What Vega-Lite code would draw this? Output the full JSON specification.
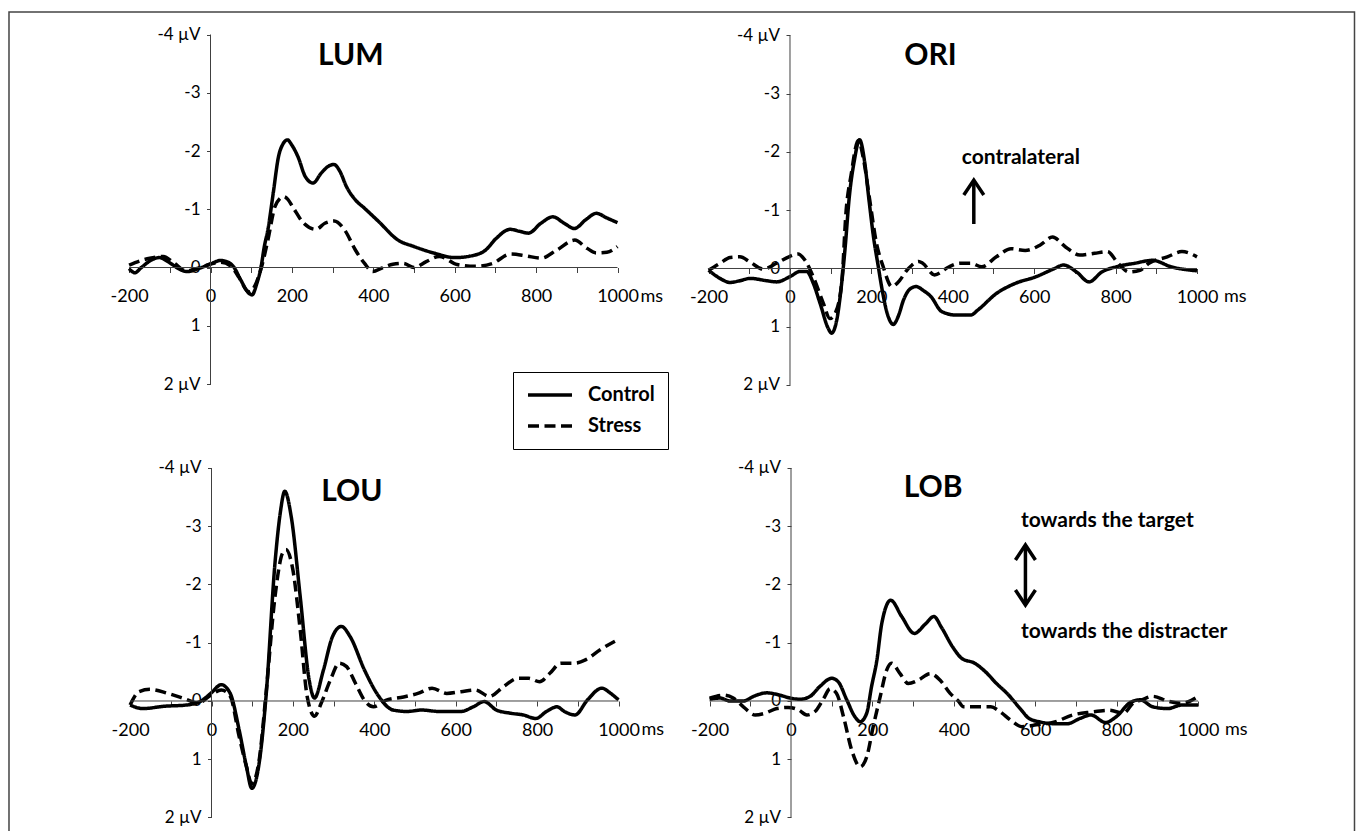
{
  "$schema": "https://vega.github.io/schema/vega-lite/v6.json",
  "width": 1357,
  "height": 831,
  "autosize": {"type": "none"},
  "padding": 0,
  "background": "white",
  "config": {
    "view": {"stroke": null},
    "font": "Lato",
    "text": {"font": "Lato", "color": "black"}
  },
  "datasets": {
    "LUM": [
      {"cond":"Control","t":-200,"v":0.02},{"cond":"Control","t":-186,"v":0.09},{"cond":"Control","t":-170,"v":0.0},{"cond":"Control","t":-142,"v":-0.14},{"cond":"Control","t":-126,"v":-0.17},{"cond":"Control","t":-100,"v":-0.08},{"cond":"Control","t":-76,"v":0.03},{"cond":"Control","t":-58,"v":0.07},{"cond":"Control","t":-26,"v":0.01},{"cond":"Control","t":0,"v":-0.06},{"cond":"Control","t":24,"v":-0.12},{"cond":"Control","t":40,"v":-0.1},{"cond":"Control","t":57,"v":-0.01},{"cond":"Control","t":74,"v":0.21},{"cond":"Control","t":94,"v":0.44},{"cond":"Control","t":102,"v":0.47},{"cond":"Control","t":114,"v":0.27},{"cond":"Control","t":124,"v":0.0},{"cond":"Control","t":132,"v":-0.35},{"cond":"Control","t":141,"v":-0.65},{"cond":"Control","t":154,"v":-1.27},{"cond":"Control","t":167,"v":-1.9},{"cond":"Control","t":178,"v":-2.12},{"cond":"Control","t":189,"v":-2.19},{"cond":"Control","t":200,"v":-2.1},{"cond":"Control","t":215,"v":-1.9},{"cond":"Control","t":233,"v":-1.56},{"cond":"Control","t":252,"v":-1.45},{"cond":"Control","t":272,"v":-1.62},{"cond":"Control","t":290,"v":-1.74},{"cond":"Control","t":303,"v":-1.77},{"cond":"Control","t":318,"v":-1.65},{"cond":"Control","t":334,"v":-1.39},{"cond":"Control","t":356,"v":-1.16},{"cond":"Control","t":378,"v":-1.02},{"cond":"Control","t":413,"v":-0.79},{"cond":"Control","t":461,"v":-0.47},{"cond":"Control","t":500,"v":-0.36},{"cond":"Control","t":553,"v":-0.24},{"cond":"Control","t":600,"v":-0.17},{"cond":"Control","t":641,"v":-0.2},{"cond":"Control","t":676,"v":-0.3},{"cond":"Control","t":702,"v":-0.5},{"cond":"Control","t":736,"v":-0.655},{"cond":"Control","t":760,"v":-0.62},{"cond":"Control","t":781,"v":-0.59},{"cond":"Control","t":812,"v":-0.76},{"cond":"Control","t":841,"v":-0.87},{"cond":"Control","t":869,"v":-0.76},{"cond":"Control","t":894,"v":-0.67},{"cond":"Control","t":922,"v":-0.82},{"cond":"Control","t":948,"v":-0.93},{"cond":"Control","t":974,"v":-0.85},{"cond":"Control","t":1000,"v":-0.77},
      {"cond":"Stress","t":-200,"v":-0.04},{"cond":"Stress","t":-170,"v":-0.12},{"cond":"Stress","t":-149,"v":-0.16},{"cond":"Stress","t":-116,"v":-0.19},{"cond":"Stress","t":-90,"v":-0.08},{"cond":"Stress","t":-60,"v":0.06},{"cond":"Stress","t":-26,"v":0.0},{"cond":"Stress","t":0,"v":-0.06},{"cond":"Stress","t":25,"v":-0.09},{"cond":"Stress","t":49,"v":-0.03},{"cond":"Stress","t":70,"v":0.17},{"cond":"Stress","t":90,"v":0.4},{"cond":"Stress","t":97,"v":0.42},{"cond":"Stress","t":110,"v":0.3},{"cond":"Stress","t":125,"v":0.0},{"cond":"Stress","t":141,"v":-0.47},{"cond":"Stress","t":158,"v":-1.04},{"cond":"Stress","t":170,"v":-1.18},{"cond":"Stress","t":180,"v":-1.215},{"cond":"Stress","t":190,"v":-1.17},{"cond":"Stress","t":202,"v":-1.04},{"cond":"Stress","t":229,"v":-0.76},{"cond":"Stress","t":259,"v":-0.655},{"cond":"Stress","t":281,"v":-0.76},{"cond":"Stress","t":304,"v":-0.8},{"cond":"Stress","t":330,"v":-0.64},{"cond":"Stress","t":356,"v":-0.3},{"cond":"Stress","t":378,"v":-0.075},{"cond":"Stress","t":399,"v":0.07},{"cond":"Stress","t":421,"v":0.01},{"cond":"Stress","t":448,"v":-0.055},{"cond":"Stress","t":474,"v":-0.07},{"cond":"Stress","t":500,"v":0.0},{"cond":"Stress","t":530,"v":-0.1},{"cond":"Stress","t":562,"v":-0.19},{"cond":"Stress","t":606,"v":-0.05},{"cond":"Stress","t":650,"v":-0.02},{"cond":"Stress","t":693,"v":-0.07},{"cond":"Stress","t":737,"v":-0.23},{"cond":"Stress","t":775,"v":-0.2},{"cond":"Stress","t":812,"v":-0.16},{"cond":"Stress","t":851,"v":-0.3},{"cond":"Stress","t":895,"v":-0.47},{"cond":"Stress","t":925,"v":-0.33},{"cond":"Stress","t":948,"v":-0.25},{"cond":"Stress","t":974,"v":-0.26},{"cond":"Stress","t":1000,"v":-0.36}
    ],
    "ORI": [
      {"cond":"Control","t":-200,"v":0.03},{"cond":"Control","t":-172,"v":0.17},{"cond":"Control","t":-147,"v":0.24},{"cond":"Control","t":-123,"v":0.21},{"cond":"Control","t":-98,"v":0.17},{"cond":"Control","t":-57,"v":0.21},{"cond":"Control","t":-33,"v":0.23},{"cond":"Control","t":0,"v":0.14},{"cond":"Control","t":25,"v":0.05},{"cond":"Control","t":41,"v":0.05},{"cond":"Control","t":57,"v":0.25},{"cond":"Control","t":74,"v":0.6},{"cond":"Control","t":94,"v":1.03},{"cond":"Control","t":102,"v":1.11},{"cond":"Control","t":115,"v":0.88},{"cond":"Control","t":127,"v":0.25},{"cond":"Control","t":136,"v":-0.4},{"cond":"Control","t":145,"v":-1.18},{"cond":"Control","t":158,"v":-1.85},{"cond":"Control","t":171,"v":-2.21},{"cond":"Control","t":183,"v":-1.85},{"cond":"Control","t":194,"v":-1.18},{"cond":"Control","t":205,"v":-0.55},{"cond":"Control","t":217,"v":-0.03},{"cond":"Control","t":226,"v":0.35},{"cond":"Control","t":238,"v":0.75},{"cond":"Control","t":254,"v":0.96},{"cond":"Control","t":266,"v":0.82},{"cond":"Control","t":279,"v":0.54},{"cond":"Control","t":295,"v":0.35},{"cond":"Control","t":310,"v":0.31},{"cond":"Control","t":328,"v":0.38},{"cond":"Control","t":346,"v":0.48},{"cond":"Control","t":373,"v":0.74},{"cond":"Control","t":409,"v":0.8},{"cond":"Control","t":444,"v":0.8},{"cond":"Control","t":462,"v":0.71},{"cond":"Control","t":507,"v":0.43},{"cond":"Control","t":552,"v":0.26},{"cond":"Control","t":605,"v":0.14},{"cond":"Control","t":650,"v":0.0},{"cond":"Control","t":672,"v":-0.06},{"cond":"Control","t":704,"v":0.06},{"cond":"Control","t":735,"v":0.23},{"cond":"Control","t":766,"v":0.06},{"cond":"Control","t":802,"v":-0.03},{"cond":"Control","t":847,"v":-0.09},{"cond":"Control","t":891,"v":-0.14},{"cond":"Control","t":936,"v":-0.03},{"cond":"Control","t":1000,"v":0.04},
      {"cond":"Stress","t":-200,"v":0.03},{"cond":"Stress","t":-172,"v":-0.09},{"cond":"Stress","t":-147,"v":-0.19},{"cond":"Stress","t":-123,"v":-0.2},{"cond":"Stress","t":-98,"v":-0.11},{"cond":"Stress","t":-66,"v":0.01},{"cond":"Stress","t":-33,"v":-0.09},{"cond":"Stress","t":0,"v":-0.21},{"cond":"Stress","t":20,"v":-0.25},{"cond":"Stress","t":37,"v":-0.14},{"cond":"Stress","t":57,"v":0.14},{"cond":"Stress","t":82,"v":0.6},{"cond":"Stress","t":98,"v":0.86},{"cond":"Stress","t":111,"v":0.77},{"cond":"Stress","t":127,"v":0.25},{"cond":"Stress","t":138,"v":-1.0},{"cond":"Stress","t":150,"v":-1.6},{"cond":"Stress","t":168,"v":-2.2},{"cond":"Stress","t":180,"v":-1.9},{"cond":"Stress","t":196,"v":-1.17},{"cond":"Stress","t":212,"v":-0.45},{"cond":"Stress","t":229,"v":-0.03},{"cond":"Stress","t":250,"v":0.31},{"cond":"Stress","t":270,"v":0.2},{"cond":"Stress","t":285,"v":0.05},{"cond":"Stress","t":300,"v":-0.06},{"cond":"Stress","t":316,"v":-0.12},{"cond":"Stress","t":326,"v":-0.09},{"cond":"Stress","t":355,"v":0.11},{"cond":"Stress","t":391,"v":-0.03},{"cond":"Stress","t":418,"v":-0.09},{"cond":"Stress","t":444,"v":-0.09},{"cond":"Stress","t":471,"v":-0.03},{"cond":"Stress","t":507,"v":-0.2},{"cond":"Stress","t":543,"v":-0.34},{"cond":"Stress","t":578,"v":-0.31},{"cond":"Stress","t":614,"v":-0.4},{"cond":"Stress","t":645,"v":-0.54},{"cond":"Stress","t":677,"v":-0.37},{"cond":"Stress","t":712,"v":-0.23},{"cond":"Stress","t":748,"v":-0.26},{"cond":"Stress","t":780,"v":-0.29},{"cond":"Stress","t":806,"v":-0.09},{"cond":"Stress","t":833,"v":0.06},{"cond":"Stress","t":860,"v":0.03},{"cond":"Stress","t":882,"v":-0.09},{"cond":"Stress","t":927,"v":-0.2},{"cond":"Stress","t":963,"v":-0.29},{"cond":"Stress","t":1000,"v":-0.2}
    ],
    "LOU": [
      {"cond":"Control","t":-200,"v":0.07},{"cond":"Control","t":-169,"v":0.13},{"cond":"Control","t":-116,"v":0.09},{"cond":"Control","t":-63,"v":0.07},{"cond":"Control","t":-28,"v":0.01},{"cond":"Control","t":-2,"v":-0.13},{"cond":"Control","t":24,"v":-0.28},{"cond":"Control","t":46,"v":-0.13},{"cond":"Control","t":68,"v":0.5},{"cond":"Control","t":86,"v":1.13},{"cond":"Control","t":99,"v":1.5},{"cond":"Control","t":117,"v":1.07},{"cond":"Control","t":134,"v":-0.08},{"cond":"Control","t":156,"v":-2.37},{"cond":"Control","t":169,"v":-3.23},{"cond":"Control","t":180,"v":-3.6},{"cond":"Control","t":196,"v":-3.16},{"cond":"Control","t":218,"v":-1.79},{"cond":"Control","t":240,"v":-0.36},{"cond":"Control","t":253,"v":-0.05},{"cond":"Control","t":275,"v":-0.53},{"cond":"Control","t":297,"v":-1.1},{"cond":"Control","t":319,"v":-1.28},{"cond":"Control","t":341,"v":-1.1},{"cond":"Control","t":376,"v":-0.53},{"cond":"Control","t":411,"v":-0.08},{"cond":"Control","t":446,"v":0.155},{"cond":"Control","t":481,"v":0.18},{"cond":"Control","t":516,"v":0.155},{"cond":"Control","t":560,"v":0.18},{"cond":"Control","t":613,"v":0.18},{"cond":"Control","t":643,"v":0.1},{"cond":"Control","t":670,"v":0.01},{"cond":"Control","t":700,"v":0.155},{"cond":"Control","t":735,"v":0.21},{"cond":"Control","t":766,"v":0.24},{"cond":"Control","t":797,"v":0.3},{"cond":"Control","t":823,"v":0.18},{"cond":"Control","t":849,"v":0.1},{"cond":"Control","t":867,"v":0.18},{"cond":"Control","t":893,"v":0.24},{"cond":"Control","t":924,"v":-0.02},{"cond":"Control","t":959,"v":-0.22},{"cond":"Control","t":981,"v":-0.13},{"cond":"Control","t":1000,"v":-0.02},
      {"cond":"Stress","t":-200,"v":0.07},{"cond":"Stress","t":-178,"v":-0.16},{"cond":"Stress","t":-151,"v":-0.2},{"cond":"Stress","t":-107,"v":-0.13},{"cond":"Stress","t":-63,"v":-0.03},{"cond":"Stress","t":-33,"v":0.04},{"cond":"Stress","t":-2,"v":-0.1},{"cond":"Stress","t":24,"v":-0.19},{"cond":"Stress","t":46,"v":-0.08},{"cond":"Stress","t":68,"v":0.61},{"cond":"Stress","t":86,"v":1.13},{"cond":"Stress","t":99,"v":1.42},{"cond":"Stress","t":117,"v":1.02},{"cond":"Stress","t":134,"v":-0.13},{"cond":"Stress","t":156,"v":-1.79},{"cond":"Stress","t":174,"v":-2.53},{"cond":"Stress","t":183,"v":-2.6},{"cond":"Stress","t":200,"v":-2.25},{"cond":"Stress","t":218,"v":-1.22},{"cond":"Stress","t":235,"v":-0.08},{"cond":"Stress","t":253,"v":0.26},{"cond":"Stress","t":270,"v":0.03},{"cond":"Stress","t":292,"v":-0.36},{"cond":"Stress","t":314,"v":-0.65},{"cond":"Stress","t":332,"v":-0.59},{"cond":"Stress","t":354,"v":-0.3},{"cond":"Stress","t":376,"v":-0.01},{"cond":"Stress","t":398,"v":0.1},{"cond":"Stress","t":428,"v":-0.01},{"cond":"Stress","t":472,"v":-0.07},{"cond":"Stress","t":507,"v":-0.13},{"cond":"Stress","t":542,"v":-0.22},{"cond":"Stress","t":578,"v":-0.13},{"cond":"Stress","t":613,"v":-0.16},{"cond":"Stress","t":648,"v":-0.19},{"cond":"Stress","t":683,"v":-0.08},{"cond":"Stress","t":718,"v":-0.25},{"cond":"Stress","t":753,"v":-0.39},{"cond":"Stress","t":779,"v":-0.39},{"cond":"Stress","t":806,"v":-0.33},{"cond":"Stress","t":832,"v":-0.48},{"cond":"Stress","t":858,"v":-0.65},{"cond":"Stress","t":893,"v":-0.65},{"cond":"Stress","t":920,"v":-0.71},{"cond":"Stress","t":955,"v":-0.88},{"cond":"Stress","t":1000,"v":-1.06}
    ],
    "LOB": [
      {"cond":"Control","t":-200,"v":-0.03},{"cond":"Control","t":-174,"v":-0.05},{"cond":"Control","t":-150,"v":0.0},{"cond":"Control","t":-117,"v":0.0},{"cond":"Control","t":-92,"v":-0.08},{"cond":"Control","t":-60,"v":-0.14},{"cond":"Control","t":-27,"v":-0.1},{"cond":"Control","t":-2,"v":-0.05},{"cond":"Control","t":22,"v":-0.03},{"cond":"Control","t":47,"v":-0.08},{"cond":"Control","t":71,"v":-0.25},{"cond":"Control","t":100,"v":-0.39},{"cond":"Control","t":116,"v":-0.33},{"cond":"Control","t":137,"v":-0.02},{"cond":"Control","t":157,"v":0.27},{"cond":"Control","t":170,"v":0.355},{"cond":"Control","t":186,"v":0.21},{"cond":"Control","t":198,"v":-0.25},{"cond":"Control","t":211,"v":-0.7},{"cond":"Control","t":223,"v":-1.33},{"cond":"Control","t":245,"v":-1.73},{"cond":"Control","t":272,"v":-1.45},{"cond":"Control","t":303,"v":-1.16},{"cond":"Control","t":330,"v":-1.32},{"cond":"Control","t":351,"v":-1.45},{"cond":"Control","t":370,"v":-1.26},{"cond":"Control","t":397,"v":-0.93},{"cond":"Control","t":420,"v":-0.73},{"cond":"Control","t":451,"v":-0.65},{"cond":"Control","t":478,"v":-0.5},{"cond":"Control","t":505,"v":-0.3},{"cond":"Control","t":531,"v":-0.13},{"cond":"Control","t":563,"v":0.13},{"cond":"Control","t":585,"v":0.3},{"cond":"Control","t":612,"v":0.36},{"cond":"Control","t":648,"v":0.39},{"cond":"Control","t":679,"v":0.39},{"cond":"Control","t":710,"v":0.3},{"cond":"Control","t":737,"v":0.24},{"cond":"Control","t":773,"v":0.37},{"cond":"Control","t":799,"v":0.27},{"cond":"Control","t":835,"v":0.02},{"cond":"Control","t":858,"v":-0.02},{"cond":"Control","t":889,"v":0.1},{"cond":"Control","t":925,"v":0.13},{"cond":"Control","t":960,"v":0.07},{"cond":"Control","t":1000,"v":0.07},
      {"cond":"Stress","t":-200,"v":-0.05},{"cond":"Stress","t":-166,"v":-0.1},{"cond":"Stress","t":-142,"v":-0.05},{"cond":"Stress","t":-117,"v":0.1},{"cond":"Stress","t":-88,"v":0.24},{"cond":"Stress","t":-64,"v":0.21},{"cond":"Stress","t":-35,"v":0.13},{"cond":"Stress","t":-7,"v":0.11},{"cond":"Stress","t":18,"v":0.15},{"cond":"Stress","t":39,"v":0.24},{"cond":"Stress","t":59,"v":0.18},{"cond":"Stress","t":80,"v":-0.04},{"cond":"Stress","t":96,"v":-0.21},{"cond":"Stress","t":112,"v":-0.13},{"cond":"Stress","t":129,"v":0.27},{"cond":"Stress","t":149,"v":0.84},{"cond":"Stress","t":170,"v":1.13},{"cond":"Stress","t":186,"v":0.96},{"cond":"Stress","t":202,"v":0.44},{"cond":"Stress","t":219,"v":-0.07},{"cond":"Stress","t":235,"v":-0.53},{"cond":"Stress","t":247,"v":-0.65},{"cond":"Stress","t":268,"v":-0.47},{"cond":"Stress","t":288,"v":-0.3},{"cond":"Stress","t":313,"v":-0.36},{"cond":"Stress","t":342,"v":-0.47},{"cond":"Stress","t":366,"v":-0.36},{"cond":"Stress","t":391,"v":-0.13},{"cond":"Stress","t":411,"v":0.0},{"cond":"Stress","t":424,"v":0.1},{"cond":"Stress","t":460,"v":0.1},{"cond":"Stress","t":491,"v":0.1},{"cond":"Stress","t":513,"v":0.18},{"cond":"Stress","t":540,"v":0.33},{"cond":"Stress","t":567,"v":0.44},{"cond":"Stress","t":603,"v":0.41},{"cond":"Stress","t":648,"v":0.36},{"cond":"Stress","t":692,"v":0.24},{"cond":"Stress","t":737,"v":0.19},{"cond":"Stress","t":782,"v":0.16},{"cond":"Stress","t":817,"v":0.21},{"cond":"Stress","t":840,"v":0.04},{"cond":"Stress","t":862,"v":-0.02},{"cond":"Stress","t":889,"v":-0.08},{"cond":"Stress","t":925,"v":0.0},{"cond":"Stress","t":960,"v":0.04},{"cond":"Stress","t":1000,"v":-0.08}
    ]
  },
  "resolve": {"scale": {"x": "independent", "y": "independent"}, "axis": {"x": "independent", "y": "independent"}},
  "layer": [
    {
      "data": {"name": "LUM"},
      "mark": {"type": "line", "interpolate": "monotone", "strokeWidth": 3.5, "color": "black"},
      "encoding": {
        "x": {"field": "t", "type": "quantitative", "scale": {"domain": [-517.2, 2816.95], "nice": false, "zero": false},
          "axis": {"orient": "bottom", "offset": -563.5, "values": [-200,-100,0,100,200,300,400,500,600,700,800,900,1000], "labelExpr": "datum.value % 200 === 0 ? '' + datum.value : ''", "title": null, "domain": false, "grid": false, "ticks": true, "tickSize": 5, "tickColor": "#404040", "labelBaseline": "alphabetic", "labelPadding": 29, "labelFontSize": 18, "labelFont": "Lato", "labelColor": "black", "labelFlush": false, "labelOverlap": false}},
        "y": {"field": "v", "type": "quantitative", "scale": {"domain": [-4.5923, 9.6738], "nice": false, "zero": false, "reverse": true},
          "axis": {"orient": "left", "offset": -210.5, "values": [-4,-3,-2,-1,0,1,2], "labelExpr": "datum.value === -4 ? '-4 µV' : (datum.value === 2 ? '2 µV' : '' + datum.value)", "title": null, "domain": false, "grid": false, "ticks": true, "tickSize": 4, "tickColor": "#404040", "labelPadding": 6.5, "labelFontSize": 17, "labelFont": "Lato", "labelColor": "black", "labelFlush": false, "labelOverlap": false}},
        "strokeDash": {"field": "cond", "type": "nominal", "scale": {"domain": ["Control", "Stress"], "range": [[1, 0], [11, 5.5]]},
          "legend": {"orient": "none", "legendX": 513, "legendY": 372, "title": null, "strokeColor": "black", "fillColor": "white", "padding": 13, "symbolType": "stroke", "symbolSize": 1936, "symbolStrokeWidth": 3.5, "symbolStrokeColor": "black", "labelFont": "Lato", "labelFontSize": 20, "labelFontWeight": "bold", "labelColor": "black", "labelOffset": 14, "rowPadding": 11, "clipHeight": 20}}
      }
    },
    {"data": {"values": [{}]}, "mark": {"type": "rule", "color": "#404040", "strokeWidth": 1},
      "encoding": {"x": {"datum": -200, "axis": null, "scale": {"domain": [-517.2, 2816.95], "nice": false, "zero": false}}, "x2": {"datum": 1000}, "y": {"datum": 0, "axis": null, "scale": {"domain": [-4.5923, 9.6738], "nice": false, "zero": false, "reverse": true}}}},
    {"data": {"values": [{}]}, "mark": {"type": "rule", "color": "#404040", "strokeWidth": 1},
      "encoding": {"x": {"datum": 0, "axis": null, "scale": {"domain": [-517.2, 2816.95], "nice": false, "zero": false}}, "y": {"datum": -4, "axis": null, "scale": {"domain": [-4.5923, 9.6738], "nice": false, "zero": false, "reverse": true}}, "y2": {"datum": 2}}},
    {"data": {"values": [{}]}, "mark": {"type": "text", "text": "LUM", "fontSize": 30, "fontWeight": "bold", "align": "center", "baseline": "alphabetic"},
      "encoding": {"x": {"datum": 345, "axis": null, "scale": {"domain": [-517.2, 2816.95], "nice": false, "zero": false}}, "y": {"datum": -3.48, "axis": null, "scale": {"domain": [-4.5923, 9.6738], "nice": false, "zero": false, "reverse": true}}}},
    {"data": {"values": [{}]}, "mark": {"type": "text", "text": "ms", "fontSize": 18, "align": "left", "baseline": "alphabetic", "dx": 23, "dy": 34},
      "encoding": {"x": {"datum": 1000, "axis": null, "scale": {"domain": [-517.2, 2816.95], "nice": false, "zero": false}}, "y": {"datum": 0, "axis": null, "scale": {"domain": [-4.5923, 9.6738], "nice": false, "zero": false, "reverse": true}}}},
    {"data": {"values": [{}]}, "mark": {"type": "rect", "filled": false, "color": "#444444", "strokeWidth": 1.5},
      "encoding": {"x": {"datum": -495.1, "axis": null, "scale": {"domain": [-517.2, 2816.95], "nice": false, "zero": false}}, "x2": {"datum": 2810.8}, "y": {"datum": -4.386, "axis": null, "scale": {"domain": [-4.5923, 9.6738], "nice": false, "zero": false, "reverse": true}}, "y2": {"datum": 9.83}}},

    {
      "data": {"name": "ORI"},
      "mark": {"type": "line", "interpolate": "monotone", "strokeWidth": 3.5, "color": "black"},
      "encoding": {
        "x": {"field": "t", "type": "quantitative", "scale": {"domain": [-1941.03, 1393.12], "nice": false, "zero": false},
          "axis": {"orient": "bottom", "offset": -562.5, "values": [-200,-100,0,100,200,300,400,500,600,700,800,900,1000], "labelExpr": "datum.value % 200 === 0 ? '' + datum.value : ''", "title": null, "domain": false, "grid": false, "ticks": true, "tickSize": 5, "tickColor": "#404040", "labelBaseline": "alphabetic", "labelPadding": 29, "labelFontSize": 18, "labelFont": "Lato", "labelColor": "black", "labelFlush": false, "labelOverlap": false}},
        "y": {"field": "v", "type": "quantitative", "scale": {"domain": [-4.6094, 9.6567], "nice": false, "zero": false, "reverse": true},
          "axis": {"orient": "left", "offset": -790, "values": [-4,-3,-2,-1,0,1,2], "labelExpr": "datum.value === -4 ? '-4 µV' : (datum.value === 2 ? '2 µV' : '' + datum.value)", "title": null, "domain": false, "grid": false, "ticks": true, "tickSize": 4, "tickColor": "#404040", "labelPadding": 6.5, "labelFontSize": 17, "labelFont": "Lato", "labelColor": "black", "labelFlush": false, "labelOverlap": false}},
        "strokeDash": {"field": "cond", "type": "nominal", "scale": {"domain": ["Control", "Stress"], "range": [[1, 0], [11, 5.5]]},
          "legend": {"orient": "none", "legendX": 513, "legendY": 372, "title": null, "strokeColor": "black", "fillColor": "white", "padding": 13, "symbolType": "stroke", "symbolSize": 1936, "symbolStrokeWidth": 3.5, "symbolStrokeColor": "black", "labelFont": "Lato", "labelFontSize": 20, "labelFontWeight": "bold", "labelColor": "black", "labelOffset": 14, "rowPadding": 11, "clipHeight": 20}}
      }
    },
    {"data": {"values": [{}]}, "mark": {"type": "rule", "color": "#404040", "strokeWidth": 1},
      "encoding": {"x": {"datum": -200, "axis": null, "scale": {"domain": [-1941.03, 1393.12], "nice": false, "zero": false}}, "x2": {"datum": 1000}, "y": {"datum": 0, "axis": null, "scale": {"domain": [-4.6094, 9.6567], "nice": false, "zero": false, "reverse": true}}}},
    {"data": {"values": [{}]}, "mark": {"type": "rule", "color": "#404040", "strokeWidth": 1},
      "encoding": {"x": {"datum": 0, "axis": null, "scale": {"domain": [-1941.03, 1393.12], "nice": false, "zero": false}}, "y": {"datum": -4, "axis": null, "scale": {"domain": [-4.6094, 9.6567], "nice": false, "zero": false, "reverse": true}}, "y2": {"datum": 2}}},
    {"data": {"values": [{}]}, "mark": {"type": "text", "text": "ORI", "fontSize": 30, "fontWeight": "bold", "align": "center", "baseline": "alphabetic"},
      "encoding": {"x": {"datum": 345, "axis": null, "scale": {"domain": [-1941.03, 1393.12], "nice": false, "zero": false}}, "y": {"datum": -3.49, "axis": null, "scale": {"domain": [-4.6094, 9.6567], "nice": false, "zero": false, "reverse": true}}}},
    {"data": {"values": [{}]}, "mark": {"type": "text", "text": "ms", "fontSize": 18, "align": "left", "baseline": "alphabetic", "dx": 27, "dy": 34},
      "encoding": {"x": {"datum": 1000, "axis": null, "scale": {"domain": [-1941.03, 1393.12], "nice": false, "zero": false}}, "y": {"datum": 0, "axis": null, "scale": {"domain": [-4.6094, 9.6567], "nice": false, "zero": false, "reverse": true}}}},
    {"data": {"values": [{}]}, "mark": {"type": "text", "text": "contralateral", "fontSize": 21, "fontWeight": "bold", "align": "left", "baseline": "alphabetic"},
      "encoding": {"x": {"datum": 422, "axis": null, "scale": {"domain": [-1941.03, 1393.12], "nice": false, "zero": false}}, "y": {"datum": -1.79, "axis": null, "scale": {"domain": [-4.6094, 9.6567], "nice": false, "zero": false, "reverse": true}}}},
    {"data": {"values": [{}]}, "mark": {"type": "rule", "color": "black", "strokeWidth": 3.5},
      "encoding": {"x": {"datum": 451.6, "axis": null, "scale": {"domain": [-1941.03, 1393.12], "nice": false, "zero": false}}, "y": {"datum": -0.764, "axis": null, "scale": {"domain": [-4.6094, 9.6567], "nice": false, "zero": false, "reverse": true}}, "y2": {"datum": -1.5}}},
    {"data": {"values": [{}]}, "mark": {"type": "point", "shape": "M-1,0.75L0,-0.75L1,0.75", "filled": false, "size": 400, "strokeWidth": 3.5, "color": "black", "opacity": 1, "strokeJoin": "miter"},
      "encoding": {"x": {"datum": 451.6, "axis": null, "scale": {"domain": [-1941.03, 1393.12], "nice": false, "zero": false}}, "y": {"datum": -1.39, "axis": null, "scale": {"domain": [-4.6094, 9.6567], "nice": false, "zero": false, "reverse": true}}}},

    {
      "data": {"name": "LOU"},
      "mark": {"type": "line", "interpolate": "monotone", "strokeWidth": 3.5, "color": "black"},
      "encoding": {
        "x": {"field": "t", "type": "quantitative", "scale": {"domain": [-519.66, 2814.5], "nice": false, "zero": false},
          "axis": {"orient": "bottom", "offset": -130, "values": [-200,-100,0,100,200,300,400,500,600,700,800,900,1000], "labelExpr": "datum.value % 200 === 0 ? '' + datum.value : ''", "title": null, "domain": false, "grid": false, "ticks": true, "tickSize": 5, "tickColor": "#404040", "labelBaseline": "alphabetic", "labelPadding": 29, "labelFontSize": 18, "labelFont": "Lato", "labelColor": "black", "labelFlush": false, "labelOverlap": false}},
        "y": {"field": "v", "type": "quantitative", "scale": {"domain": [-12.0343, 2.2318], "nice": false, "zero": false, "reverse": true},
          "axis": {"orient": "left", "offset": -211.5, "values": [-4,-3,-2,-1,0,1,2], "labelExpr": "datum.value === -4 ? '-4 µV' : (datum.value === 2 ? '2 µV' : '' + datum.value)", "title": null, "domain": false, "grid": false, "ticks": true, "tickSize": 4, "tickColor": "#404040", "labelPadding": 6.5, "labelFontSize": 17, "labelFont": "Lato", "labelColor": "black", "labelFlush": false, "labelOverlap": false}},
        "strokeDash": {"field": "cond", "type": "nominal", "scale": {"domain": ["Control", "Stress"], "range": [[1, 0], [11, 5.5]]},
          "legend": {"orient": "none", "legendX": 513, "legendY": 372, "title": null, "strokeColor": "black", "fillColor": "white", "padding": 13, "symbolType": "stroke", "symbolSize": 1936, "symbolStrokeWidth": 3.5, "symbolStrokeColor": "black", "labelFont": "Lato", "labelFontSize": 20, "labelFontWeight": "bold", "labelColor": "black", "labelOffset": 14, "rowPadding": 11, "clipHeight": 20}}
      }
    },
    {"data": {"values": [{}]}, "mark": {"type": "rule", "color": "#404040", "strokeWidth": 1},
      "encoding": {"x": {"datum": -200, "axis": null, "scale": {"domain": [-519.66, 2814.5], "nice": false, "zero": false}}, "x2": {"datum": 1000}, "y": {"datum": 0, "axis": null, "scale": {"domain": [-12.0343, 2.2318], "nice": false, "zero": false, "reverse": true}}}},
    {"data": {"values": [{}]}, "mark": {"type": "rule", "color": "#404040", "strokeWidth": 1},
      "encoding": {"x": {"datum": 0, "axis": null, "scale": {"domain": [-519.66, 2814.5], "nice": false, "zero": false}}, "y": {"datum": -4, "axis": null, "scale": {"domain": [-12.0343, 2.2318], "nice": false, "zero": false, "reverse": true}}, "y2": {"datum": 2}}},
    {"data": {"values": [{}]}, "mark": {"type": "text", "text": "LOU", "fontSize": 30, "fontWeight": "bold", "align": "center", "baseline": "alphabetic"},
      "encoding": {"x": {"datum": 345, "axis": null, "scale": {"domain": [-519.66, 2814.5], "nice": false, "zero": false}}, "y": {"datum": -3.44, "axis": null, "scale": {"domain": [-12.0343, 2.2318], "nice": false, "zero": false, "reverse": true}}}},
    {"data": {"values": [{}]}, "mark": {"type": "text", "text": "ms", "fontSize": 18, "align": "left", "baseline": "alphabetic", "dx": 23, "dy": 34},
      "encoding": {"x": {"datum": 1000, "axis": null, "scale": {"domain": [-519.66, 2814.5], "nice": false, "zero": false}}, "y": {"datum": 0, "axis": null, "scale": {"domain": [-12.0343, 2.2318], "nice": false, "zero": false, "reverse": true}}}},

    {
      "data": {"name": "LOB"},
      "mark": {"type": "line", "interpolate": "monotone", "strokeWidth": 3.5, "color": "black"},
      "encoding": {
        "x": {"field": "t", "type": "quantitative", "scale": {"domain": [-1943.49, 1390.66], "nice": false, "zero": false},
          "axis": {"orient": "bottom", "offset": -130, "values": [-200,-100,0,100,200,300,400,500,600,700,800,900,1000], "labelExpr": "datum.value % 200 === 0 ? '' + datum.value : ''", "title": null, "domain": false, "grid": false, "ticks": true, "tickSize": 5, "tickColor": "#404040", "labelBaseline": "alphabetic", "labelPadding": 29, "labelFontSize": 18, "labelFont": "Lato", "labelColor": "black", "labelFlush": false, "labelOverlap": false}},
        "y": {"field": "v", "type": "quantitative", "scale": {"domain": [-12.0343, 2.2318], "nice": false, "zero": false, "reverse": true},
          "axis": {"orient": "left", "offset": -791, "values": [-4,-3,-2,-1,0,1,2], "labelExpr": "datum.value === -4 ? '-4 µV' : (datum.value === 2 ? '2 µV' : '' + datum.value)", "title": null, "domain": false, "grid": false, "ticks": true, "tickSize": 4, "tickColor": "#404040", "labelPadding": 6.5, "labelFontSize": 17, "labelFont": "Lato", "labelColor": "black", "labelFlush": false, "labelOverlap": false}},
        "strokeDash": {"field": "cond", "type": "nominal", "scale": {"domain": ["Control", "Stress"], "range": [[1, 0], [11, 5.5]]},
          "legend": {"orient": "none", "legendX": 513, "legendY": 372, "title": null, "strokeColor": "black", "fillColor": "white", "padding": 13, "symbolType": "stroke", "symbolSize": 1936, "symbolStrokeWidth": 3.5, "symbolStrokeColor": "black", "labelFont": "Lato", "labelFontSize": 20, "labelFontWeight": "bold", "labelColor": "black", "labelOffset": 14, "rowPadding": 11, "clipHeight": 20}}
      }
    },
    {"data": {"values": [{}]}, "mark": {"type": "rule", "color": "#404040", "strokeWidth": 1},
      "encoding": {"x": {"datum": -200, "axis": null, "scale": {"domain": [-1943.49, 1390.66], "nice": false, "zero": false}}, "x2": {"datum": 1000}, "y": {"datum": 0, "axis": null, "scale": {"domain": [-12.0343, 2.2318], "nice": false, "zero": false, "reverse": true}}}},
    {"data": {"values": [{}]}, "mark": {"type": "rule", "color": "#404040", "strokeWidth": 1},
      "encoding": {"x": {"datum": 0, "axis": null, "scale": {"domain": [-1943.49, 1390.66], "nice": false, "zero": false}}, "y": {"datum": -4, "axis": null, "scale": {"domain": [-12.0343, 2.2318], "nice": false, "zero": false, "reverse": true}}, "y2": {"datum": 2}}},
    {"data": {"values": [{}]}, "mark": {"type": "text", "text": "LOB", "fontSize": 30, "fontWeight": "bold", "align": "center", "baseline": "alphabetic"},
      "encoding": {"x": {"datum": 349, "axis": null, "scale": {"domain": [-1943.49, 1390.66], "nice": false, "zero": false}}, "y": {"datum": -3.51, "axis": null, "scale": {"domain": [-12.0343, 2.2318], "nice": false, "zero": false, "reverse": true}}}},
    {"data": {"values": [{}]}, "mark": {"type": "text", "text": "ms", "fontSize": 18, "align": "left", "baseline": "alphabetic", "dx": 27, "dy": 34},
      "encoding": {"x": {"datum": 1000, "axis": null, "scale": {"domain": [-1943.49, 1390.66], "nice": false, "zero": false}}, "y": {"datum": 0, "axis": null, "scale": {"domain": [-12.0343, 2.2318], "nice": false, "zero": false, "reverse": true}}}},
    {"data": {"values": [{}]}, "mark": {"type": "text", "text": "towards the target", "fontSize": 21, "fontWeight": "bold", "align": "left", "baseline": "alphabetic"},
      "encoding": {"x": {"datum": 565, "axis": null, "scale": {"domain": [-1943.49, 1390.66], "nice": false, "zero": false}}, "y": {"datum": -2.99, "axis": null, "scale": {"domain": [-12.0343, 2.2318], "nice": false, "zero": false, "reverse": true}}}},
    {"data": {"values": [{}]}, "mark": {"type": "text", "text": "towards the distracter", "fontSize": 21, "fontWeight": "bold", "align": "left", "baseline": "alphabetic"},
      "encoding": {"x": {"datum": 565, "axis": null, "scale": {"domain": [-1943.49, 1390.66], "nice": false, "zero": false}}, "y": {"datum": -1.076, "axis": null, "scale": {"domain": [-12.0343, 2.2318], "nice": false, "zero": false, "reverse": true}}}},
    {"data": {"values": [{}]}, "mark": {"type": "rule", "color": "black", "strokeWidth": 3.5},
      "encoding": {"x": {"datum": 576, "axis": null, "scale": {"domain": [-1943.49, 1390.66], "nice": false, "zero": false}}, "y": {"datum": -2.66, "axis": null, "scale": {"domain": [-12.0343, 2.2318], "nice": false, "zero": false, "reverse": true}}, "y2": {"datum": -1.665}}},
    {"data": {"values": [{}]}, "mark": {"type": "point", "shape": "M-1,0.75L0,-0.75L1,0.75", "filled": false, "size": 400, "strokeWidth": 3.5, "color": "black", "opacity": 1, "strokeJoin": "miter"},
      "encoding": {"x": {"datum": 576, "axis": null, "scale": {"domain": [-1943.49, 1390.66], "nice": false, "zero": false}}, "y": {"datum": -2.549, "axis": null, "scale": {"domain": [-12.0343, 2.2318], "nice": false, "zero": false, "reverse": true}}}},
    {"data": {"values": [{}]}, "mark": {"type": "point", "shape": "M-1,-0.75L0,0.75L1,-0.75", "filled": false, "size": 400, "strokeWidth": 3.5, "color": "black", "opacity": 1, "strokeJoin": "miter"},
      "encoding": {"x": {"datum": 576, "axis": null, "scale": {"domain": [-1943.49, 1390.66], "nice": false, "zero": false}}, "y": {"datum": -1.777, "axis": null, "scale": {"domain": [-12.0343, 2.2318], "nice": false, "zero": false, "reverse": true}}}}
  ]
}
